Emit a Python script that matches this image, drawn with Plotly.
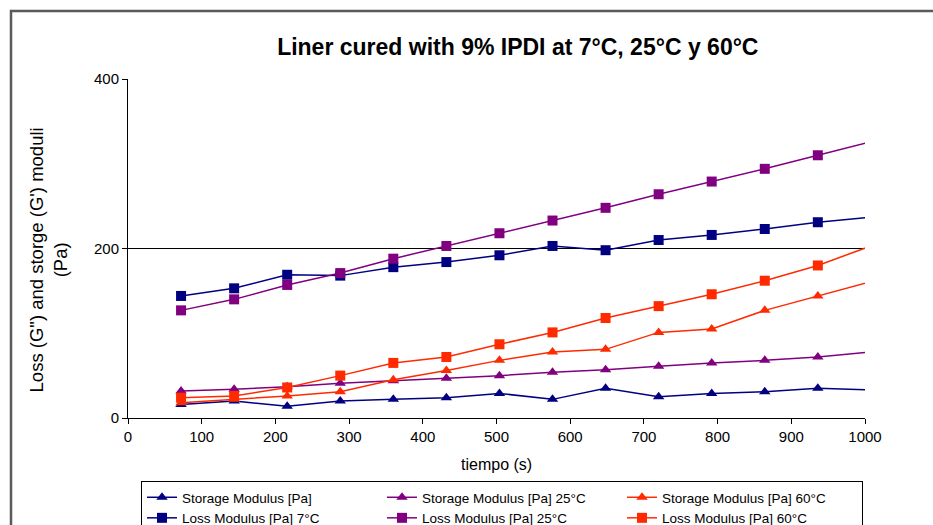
import plotly.graph_objects as go

# ---- data ----
tiempo = [72, 144, 216, 288, 360, 432, 504, 576, 648, 720, 792, 864, 936, 1008]
storage_7 = [16, 20, 14, 20, 22, 24, 29, 22, 35, 25, 29, 31, 35, 33]
storage_25 = [32, 34, 37, 41, 44, 47, 50, 54, 57, 61, 65, 68, 72, 78]
storage_60 = [18, 22, 26, 31, 45, 56, 68, 78, 81, 101, 105, 127, 144, 161]
loss_7 = [144, 153, 169, 168, 178, 184, 192, 203, 198, 210, 216, 223, 231, 237]
loss_25 = [127, 140, 157, 171, 188, 203, 218, 233, 248, 264, 279, 294, 310, 326]
loss_60 = [24, 26, 36, 50, 65, 72, 87, 101, 118, 132, 146, 162, 180, 203]

series_names = [
    "Storage Modulus [Pa]",
    "Storage Modulus [Pa] 25°C",
    "Storage Modulus [Pa] 60°C",
    "Loss Modulus [Pa] 7°C",
    "Loss Modulus [Pa] 25°C",
    "Loss Modulus [Pa] 60°C",
]
x_ticks = [0, 100, 200, 300, 400, 500, 600, 700, 800, 900, 1000]
y_ticks = [0, 200, 400]

NAVY = "#000080"
PURPLE = "#800080"
RED = "#FF2A00"

series = [
    (storage_7, NAVY, "triangle-up"),
    (storage_25, PURPLE, "triangle-up"),
    (storage_60, RED, "triangle-up"),
    (loss_7, NAVY, "square"),
    (loss_25, PURPLE, "square"),
    (loss_60, RED, "square"),
]

fig = go.Figure()
for name, (vals, col, sym) in zip(series_names, series):
    fig.add_trace(go.Scatter(
        x=tiempo, y=vals, name=name, mode="lines+markers",
        line=dict(color=col, width=1.5),
        marker=dict(symbol=sym, color=col, size=10),
    ))

FONT = "Liberation Sans, Arial, sans-serif"

fig.update_layout(
    width=933, height=525,
    margin=dict(l=128, r=68, t=79, b=107, autoexpand=False),
    paper_bgcolor="white", plot_bgcolor="white",
    font=dict(family=FONT, color="black", size=15),
    title=dict(text="<b>Liner cured with 9% IPDI at 7°C, 25°C y 60°C</b>",
               x=0.555, xanchor="center", y=1 - 47 / 525, yanchor="middle",
               font=dict(size=23, family=FONT, color="black")),
    showlegend=True,
    legend=dict(orientation="h", xref="container", yref="container",
                x=141 / 933, y=1 - 481 / 525, xanchor="left", yanchor="top",
                bordercolor="black", borderwidth=1, bgcolor="white",
                entrywidth=195, entrywidthmode="pixels",
                font=dict(size=13.5, family=FONT), tracegroupgap=0,
                itemwidth=30),
    xaxis=dict(range=[0, 1000], tickvals=x_ticks, showgrid=False,
               showline=True, linecolor="black", linewidth=1,
               ticks="outside", ticklen=5, tickcolor="black",
               tickfont=dict(size=15), zeroline=False),
    yaxis=dict(range=[0, 400], tickvals=y_ticks, showgrid=True,
               gridcolor="black", gridwidth=1,
               showline=True, linecolor="black", linewidth=1,
               ticks="outside", ticklen=5, tickcolor="black",
               tickfont=dict(size=15), zeroline=False),
    annotations=[
        dict(text="Loss (G\") and storge (G') moduli<br>(Pa)", xref="paper", yref="paper",
             x=-0.108, y=0.466, xanchor="center", yanchor="middle", textangle=-90,
             showarrow=False, font=dict(size=18.5)),
        dict(text="tiempo (s)", xref="paper", yref="paper", x=0.5, y=-0.1386,
             xanchor="center", yanchor="middle", showarrow=False, font=dict(size=16)),
    ],
    shapes=[
        dict(type="rect", xref="paper", yref="paper",
             x0=(11 - 128) / 737, x1=(945 - 128) / 737,
             y0=(418 - 545) / 339, y1=(418 - 11) / 339,
             line=dict(color="#5a5a5a", width=2.5), layer="below"),
    ],
)

fig.write_html("out.html")
